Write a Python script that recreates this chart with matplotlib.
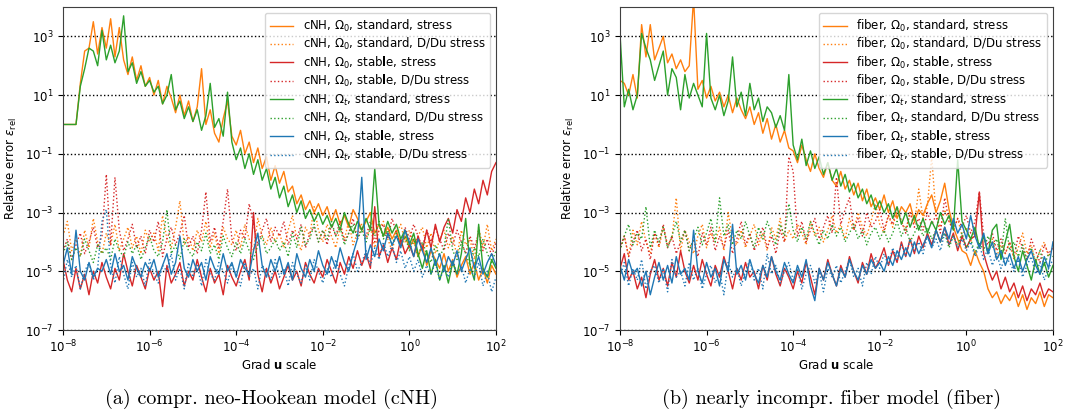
"""
Relative error of stress / D/Du stress vs. Grad u scale, cNH and fiber models
"""

import numpy as np
import matplotlib
matplotlib.use("Agg")
import matplotlib.pyplot as plt
from matplotlib.ticker import NullLocator

# sweep of the displacement-gradient scale (10^-8 ... 10^2, 0.1 decade steps)
grad_u_scale = np.logspace(-8, 2, 101)

# ---- data: log10 of the relative error ----
# compr. neo-Hookean (cNH)
cnh_O0_std = [
    0.0, 0.0, 0.0, 0.0, 1.4, 2.5, 2.6, 3.5, 2.4, 3.3,
    2.6, 3.6, 2.3, 3.3, 2.2, 1.7, 2.3, 1.5, 2.0, 1.3,
    1.6, 1.0, 1.5, 0.7, 1.3, 0.9, 0.4, 1.0, 0.3, 0.8,
    0.1, 0.6, 1.9, 0.0, 0.5, -0.3, -0.6, 0.2, 0.8, -0.4,
    -0.7, -0.2, -1.0, -0.6, -1.3, -0.8, -1.5, -1.1, -1.9, -1.4,
    -2.0, -1.6, -2.3, -2.1, -2.7, -2.4, -2.9, -2.6, -3.0, -2.7,
    -3.1, -2.8, -3.3, -2.9, -3.4, -3.1, -3.5, -2.9, -3.2, -3.6,
    -3.3, -3.0, -3.7, -3.4, -3.8, -3.5, -3.9, -3.6, -4.1, -3.8,
    -4.2, -3.9, -4.5, -4.1, -4.8, -4.3, -4.6, -4.9, -4.4, -5.0,
    -4.6, -5.2, -4.8, -4.5, -5.1, -4.7, -5.3, -4.9, -5.4, -4.8,
    -5.1]
cnh_O0_std_dd = [
    -3.8, -3.3, -4.3, -3.9, -4.5, -3.6, -4.2, -3.2, -4.0, -4.4,
    -3.7, -4.1, -3.4, -4.3, -3.9, -3.5, -4.2, -3.8, -4.4, -3.6,
    -4.0, -3.7, -4.3, -3.1, -3.9, -4.2, -3.5, -2.6, -4.1, -3.8,
    -4.3, -3.6, -4.0, -3.3, -4.2, -3.7, -4.4, -3.5, -3.9, -4.1,
    -3.6, -4.2, -3.4, -3.9, -4.3, -3.2, -3.8, -4.1, -3.5, -4.0,
    -3.7, -4.2, -3.6, -3.1, -3.9, -4.3, -3.5, -3.8, -2.8, -3.6,
    -4.0, -3.4, -3.8, -4.2, -3.5, -3.9, -3.3, -4.1, -3.7, -3.4,
    -3.9, -3.5, -4.2, -3.6, -3.3, -3.9, -4.3, -3.7, -3.4, -4.0,
    -3.6, -4.1, -3.8, -3.5, -4.2, -3.7, -4.4, -3.9, -3.6, -4.2,
    -3.8, -4.5, -3.6, -4.1, -3.9, -4.6, -3.5, -4.2, -3.4, -4.3,
    -3.9]
cnh_O0_stab = [
    -4.6, -5.3, -5.7, -4.9, -5.6, -5.1, -5.8, -5.0, -5.4, -4.7,
    -5.2, -5.6, -4.9, -5.3, -4.4, -5.0, -5.5, -4.8, -5.2, -5.6,
    -4.9, -5.3, -5.0, -6.2, -4.8, -5.4, -5.1, -4.7, -5.5, -5.0,
    -5.3, -4.6, -5.2, -5.7, -4.9, -5.4, -5.1, -5.8, -4.8, -5.2,
    -5.5, -5.0, -4.6, -5.3, -3.0, -5.1, -5.7, -4.9, -5.4, -5.0,
    -5.6, -5.2, -4.8, -5.3, -5.0, -5.5, -4.7, -5.1, -5.4, -4.9,
    -5.2, -4.6, -5.0, -5.4, -4.7, -5.1, -4.5, -4.9, -4.3, -4.8,
    -4.4, -4.9, -2.8, -4.5, -4.1, -4.7, -4.2, -4.6, -3.9, -4.4,
    -4.1, -4.5, -3.8, -4.3, -3.6, -4.2, -3.4, -4.0, -3.5, -3.2,
    -3.7, -2.9, -3.3, -2.5, -3.0, -2.2, -2.7, -1.9, -2.4, -1.6,
    -1.3]
cnh_O0_stab_dd = [
    -4.3, -3.9, -4.6, -4.1, -3.7, -4.4, -4.0, -3.5, -4.2, -3.8,
    -1.7, -4.1, -1.8, -3.6, -4.3, -3.9, -3.4, -4.2, -3.8, -4.4,
    -3.6, -4.0, -3.3, -4.5, -3.9, -3.5, -4.1, -3.7, -3.1, -4.2,
    -3.8, -4.4, -3.6, -2.3, -4.0, -3.5, -4.2, -3.3, -2.2, -3.9,
    -4.3, -3.6, -3.9, -2.7, -3.4, -4.1, -3.6, -3.2, -4.0, -3.5,
    -3.8, -3.3, -4.1, -3.6, -3.9, -3.4, -4.2, -3.7, -3.5, -4.0,
    -3.6, -4.1, -3.4, -3.8, -3.3, -4.0, -3.7, -3.2, -3.9, -3.5,
    -3.8, -3.3, -4.0, -3.6, -3.4, -3.9, -3.2, -3.7, -4.1, -3.5,
    -3.9, -3.4, -3.8, -4.2, -3.6, -4.0, -3.5, -3.9, -4.3, -3.7,
    -4.1, -3.6, -4.0, -4.4, -3.8, -4.2, -3.7, -4.3, -3.9, -4.5,
    -4.0]
cnh_Ot_std = [
    0.0, 0.0, 0.0, 0.0, 1.3, 1.9, 2.6, 2.5, 2.0, 3.2,
    2.2, 2.7, 2.1, 2.5, 3.7, 1.8, 2.1, 1.4, 1.8, 1.3,
    1.5, 1.1, 1.3, 0.7, 1.0, 1.7, 0.5, 0.8, 0.2, 0.6,
    0.1, 0.5, -0.2, 0.3, 1.4, -0.1, 0.2, -0.4, 1.1, -0.6,
    -1.2, -0.8, -1.5, -1.0, -1.7, -1.2, -1.9, -1.5, -2.2, -1.8,
    -2.5, -2.1, -2.8, -2.4, -3.0, -2.6, -3.2, -2.9, -3.3, -3.0,
    -3.4, -3.1, -3.5, -3.2, -3.6, -3.0, -3.4, -3.7, -3.3, -3.6,
    -3.2, -3.6, -1.5, -3.4, -3.8, -3.3, -3.7, -3.4, -3.9, -3.6,
    -4.1, -3.7, -4.4, -4.9, -4.3, -5.1, -4.6, -5.3, -4.8, -5.4,
    -4.7, -5.1, -4.4, -3.2, -4.8, -5.3, -3.4, -4.9, -5.2, -4.6,
    -4.9]
cnh_Ot_std_dd = [
    -4.4, -4.0, -4.6, -4.2, -4.5, -3.9, -4.3, -4.7, -4.1, -4.4,
    -4.2, -4.6, -3.9, -4.3, -4.5, -4.0, -4.4, -4.1, -4.6, -4.2,
    -3.8, -4.3, -4.5, -4.0, -2.9, -4.4, -4.1, -4.6, -3.9, -4.3,
    -4.5, -4.0, -4.3, -3.7, -4.4, -4.1, -4.6, -3.8, -4.2, -4.5,
    -4.0, -4.4, -3.9, -4.3, -4.6, -4.1, -3.8, -4.4, -4.2, -3.9,
    -4.3, -4.0, -4.5, -3.7, -4.2, -3.5, -4.1, -3.9, -3.4, -4.0,
    -3.6, -3.9, -3.3, -3.8, -3.5, -4.1, -3.7, -3.4, -3.9, -3.6,
    -4.0, -3.5, -3.8, -3.3, -3.9, -3.6, -4.1, -3.7, -4.2, -3.8,
    -4.3, -3.9, -4.5, -4.0, -4.4, -4.7, -4.1, -4.5, -4.2, -3.2,
    -4.3, -4.6, -4.0, -4.4, -4.8, -4.2, -4.5, -3.9, -4.4, -4.7,
    -4.3]
cnh_Ot_stab = [
    -4.8, -4.2, -5.1, -3.6, -5.0, -5.3, -4.7, -5.2, -4.9, -5.0,
    -4.6, -5.1, -4.4, -5.0, -4.8, -5.3, -4.5, -4.9, -5.2, -4.7,
    -5.0, -4.6, -5.2, -4.8, -4.4, -5.1, -4.7, -3.8, -4.9, -5.2,
    -4.6, -5.0, -4.7, -5.3, -4.5, -4.9, -5.1, -4.4, -5.0, -4.7,
    -5.2, -4.6, -4.9, -5.1, -4.3, -3.7, -4.8, -5.2, -4.6, -5.0,
    -4.5, -5.1, -4.7, -5.3, -4.4, -4.9, -5.2, -4.6, -5.0, -4.3,
    -4.8, -5.1, -4.5, -4.9, -4.2, -4.7, -5.0, -4.4, -3.9, -1.8,
    -4.6, -4.1, -4.5, -3.9, -4.3, -3.7, -4.1, -3.8, -4.2, -3.6,
    -4.0, -4.5, -3.9, -4.3, -4.7, -4.2, -4.8, -4.4, -5.0, -4.5,
    -4.8, -4.3, -5.0, -4.6, -4.2, -4.9, -4.5, -5.1, -4.7, -4.4,
    -4.8]
cnh_Ot_stab_dd = [
    -5.4, -4.6, -5.2, -4.8, -5.6, -5.0, -4.7, -5.3, -4.9, -3.3,
    -2.9, -4.8, -5.4, -4.5, -5.1, -5.6, -4.7, -5.2, -4.9, -5.5,
    -4.6, -5.1, -5.4, -4.8, -5.0, -4.4, -5.3, -4.9, -5.6, -4.7,
    -5.2, -4.8, -5.5, -4.6, -5.1, -5.3, -4.7, -5.0, -5.4, -4.8,
    -5.1, -5.5, -4.7, -5.2, -4.9, -5.6, -4.8, -5.0, -5.3, -4.6,
    -5.2, -4.9, -5.5, -4.7, -5.1, -5.4, -4.8, -5.3, -4.6, -5.0,
    -5.4, -4.9, -5.2, -4.6, -5.1, -5.5, -4.8, -4.4, -5.0, -4.7,
    -4.3, -4.8, -4.2, -4.6, -4.0, -4.5, -4.1, -4.7, -4.3, -4.9,
    -4.5, -5.0, -4.6, -5.2, -4.8, -5.1, -4.7, -5.3, -4.9, -5.2,
    -4.6, -5.1, -4.8, -5.4, -4.9, -5.2, -4.7, -5.5, -5.0, -5.7,
    -5.2]

# nearly incompr. fiber model (fiber)
fib_O0_std = [
    1.5, 1.4, 1.0, 1.7, 0.9, 3.4, 2.3, 3.4, 2.2, 2.6,
    3.0, 2.1, 2.4, 1.9, 2.2, 1.8, 2.0, 4.3, 1.2, 1.5,
    0.9, 1.3, 0.8, 1.1, 0.6, 1.0, 0.4, 0.9, 0.5, 0.2,
    0.6, 0.0, 0.4, -0.3, 0.2, -0.5, 0.0, -0.6, -0.2, -0.8,
    -0.9, -1.3, -0.7, -1.2, -1.6, -1.0, -1.5, -1.8, -1.3, -1.9,
    -2.1, -1.6, -2.2, -1.9, -2.4, -2.0, -2.6, -2.2, -2.8, -2.5,
    -2.9, -2.4, -3.0, -2.6, -3.2, -2.8, -3.0, -2.7, -3.3, -2.9,
    -3.1, -2.7, -2.4, -3.0, -2.6, -2.0, -2.9, -3.5, -3.9, -4.3,
    -4.4, -4.8, -4.3, -4.7, -5.0, -5.6, -5.9, -5.7, -6.1, -5.8,
    -6.0, -5.7, -6.2, -5.8, -6.3, -5.9, -6.1, -5.7, -6.2, -5.8,
    -5.9]
fib_O0_std_dd = [
    -4.3, -3.8, -4.5, -3.6, -4.1, -3.3, -4.0, -4.4, -3.7, -4.2,
    -3.5, -4.1, -3.9, -2.5, -4.3, -3.6, -4.0, -4.4, -3.8, -3.4,
    -4.2, -3.7, -4.0, -3.5, -4.3, -3.0, -3.9, -4.1, -3.6, -4.2,
    -3.8, -3.4, -4.1, -3.7, -4.3, -3.5, -3.9, -3.2, -4.0, -3.6,
    -3.9, -3.4, -3.7, -4.1, -3.3, -3.8, -3.5, -4.0, -3.6, -3.1,
    -3.7, -3.4, -3.9, -3.2, -3.6, -3.0, -3.5, -3.8, -3.3, -2.7,
    -3.4, -3.7, -3.1, -3.5, -2.9, -3.3, -3.6, -3.0, -3.4, -2.2,
    -3.2, -2.8, -1.1, -3.1, -3.5, -2.9, -3.3, -3.6, -3.2, -3.8,
    -3.5, -4.0, -3.6, -4.2, -3.8, -4.3, -3.9, -4.5, -4.1, -4.4,
    -4.0, -4.6, -4.2, -3.7, -4.4, -4.1, -4.7, -4.3, -4.0, -4.5,
    -4.2]
fib_O0_stab = [
    -4.9, -4.4, -5.3, -5.0, -5.6, -5.2, -5.9, -5.1, -4.6, -5.3,
    -4.9, -5.5, -4.7, -5.2, -4.3, -5.0, -5.4, -4.8, -5.3, -4.6,
    -5.1, -5.5, -4.8, -5.2, -4.5, -5.0, -5.6, -4.9, -5.3, -4.7,
    -5.2, -5.0, -5.6, -4.8, -5.3, -4.5, -5.1, -5.5, -4.9, -5.2,
    -5.6, -5.0, -5.4, -4.7, -5.2, -5.8, -4.9, -5.3, -4.6, -5.1,
    -5.5, -4.8, -5.2, -4.5, -5.0, -5.4, -4.7, -5.1, -4.4, -4.9,
    -4.6, -4.2, -4.8, -4.3, -4.7, -4.0, -4.5, -3.9, -4.4, -3.8,
    -4.2, -3.7, -4.1, -3.6, -4.0, -3.5, -4.1, -3.7, -4.3, -3.8,
    -4.2, -3.9, -3.8, -2.3, -4.4, -4.9, -5.3, -5.0, -5.6, -5.2,
    -5.7, -5.4, -5.9, -5.5, -6.0, -5.6, -5.8, -5.4, -5.9, -5.6,
    -5.7]
fib_O0_stab_dd = [
    -4.2, -3.8, -4.5, -4.0, -3.6, -4.3, -3.9, -4.6, -3.7, -4.1,
    -3.4, -4.2, -3.8, -4.4, -4.0, -3.6, -4.3, -3.9, -4.5, -3.7,
    -4.1, -3.5, -4.3, -3.8, -4.2, -3.6, -4.4, -3.9, -3.3, -4.1,
    -3.7, -4.3, -3.9, -3.5, -4.2, -3.8, -4.4, -3.6, -4.0, -1.1,
    -1.6, -3.8, -3.3, -4.0, -3.6, -3.2, -3.9, -3.5, -3.1, -3.7,
    -1.8, -3.4, -2.9, -2.5, -3.6, -3.2, -3.8, -3.0, -3.5, -3.3,
    -2.9, -3.6, -3.1, -3.4, -2.8, -3.3, -3.7, -3.0, -3.5, -3.2,
    -3.6, -3.0, -3.4, -3.1, -3.7, -2.5, -3.3, -3.6, -3.2, -3.5,
    -3.1, -3.7, -3.3, -2.3, -3.8, -4.1, -3.7, -4.3, -3.9, -4.4,
    -4.0, -4.5, -3.8, -4.2, -4.6, -3.9, -4.3, -4.7, -4.1, -4.4,
    -4.2]
fib_Ot_std = [
    3.1, 0.6, 1.2, 0.5, 1.0, 3.1, 2.6, 2.2, 1.5, 2.0,
    2.5, 1.0, 1.9, 1.6, 0.5, 1.7, 0.9, 1.4, 1.0, 0.6,
    3.1, 0.9, 0.5, 1.0, 0.3, 0.8, 2.3, 0.6, 1.1, 0.3,
    1.4, 0.5, 0.9, 0.1, 0.6, 0.4, -0.1, 0.3, -0.2, 1.7,
    -0.7, -1.2, -0.5, -1.4, -0.9, -1.5, -1.1, -1.7, -1.3, -1.9,
    -1.5, -2.1, -1.7, -2.3, -2.0, -2.5, -2.2, -2.7, -2.4, -2.9,
    -2.6, -3.0, -2.7, -3.2, -2.8, -3.4, -3.0, -3.5, -3.1, -3.6,
    -3.2, -3.7, -3.3, -3.6, -3.0, -3.4, -3.1, -3.6, -1.2, -3.3,
    -3.6, -3.9, -3.5, -4.2, -3.8, -4.4, -3.6, -3.4, -4.6, -4.0,
    -3.4, -4.5, -5.0, -4.3, -4.8, -5.3, -4.6, -5.1, -4.7, -5.2,
    -4.8]
fib_Ot_std_dd = [
    -4.3, -3.8, -3.4, -4.1, -3.7, -3.9, -2.8, -4.2, -3.6, -4.0,
    -3.5, -4.2, -3.8, -3.3, -4.0, -3.6, -4.3, -3.9, -3.5, -4.1,
    -3.7, -3.2, -4.0, -2.5, -3.8, -3.4, -4.1, -3.6, -3.9, -3.3,
    -3.8, -4.2, -3.5, -3.9, -3.3, -3.7, -4.1, -3.4, -3.8, -2.7,
    -3.6, -4.0, -3.5, -3.9, -3.3, -3.7, -4.1, -3.6, -3.9, -3.4,
    -3.8, -3.5, -4.0, -3.7, -3.4, -3.9, -3.6, -4.1, -3.7, -3.5,
    -3.9, -3.6, -4.0, -3.7, -3.3, -3.8, -3.5, -4.0, -3.7, -3.4,
    -3.8, -3.5, -3.9, -3.6, -4.0, -3.7, -4.2, -3.8, -4.1, -3.7,
    -4.2, -3.9, -4.4, -4.0, -4.3, -3.8, -4.2, -3.9, -4.5, -3.2,
    -4.3, -4.0, -4.5, -4.1, -4.6, -4.2, -4.7, -4.3, -4.8, -4.4,
    -4.5]
fib_Ot_stab = [
    -4.8, -5.3, -4.6, -5.1, -4.9, -5.5, -5.0, -5.8, -5.2, -4.7,
    -5.3, -4.8, -5.4, -4.5, -5.1, -4.9, -5.3, -3.6, -5.0, -5.4,
    -4.7, -5.2, -4.9, -5.5, -4.6, -5.0, -3.4, -5.1, -4.8, -5.3,
    -4.6, -5.1, -5.4, -4.8, -5.2, -4.5, -5.0, -5.3, -4.7, -5.1,
    -5.4, -4.8, -5.2, -4.6, -5.5, -6.0, -4.9, -5.3, -4.7, -5.1,
    -5.5, -4.9, -5.2, -4.6, -5.0, -5.3, -4.8, -5.1, -4.6, -4.9,
    -4.7, -5.0, -4.5, -4.8, -4.3, -4.6, -4.2, -4.5, -4.0, -4.4,
    -4.1, -3.8, -4.2, -3.6, -4.0, -3.5, -3.9, -3.2, -3.7, -3.4,
    -3.9, -3.1, -3.8, -4.2, -3.7, -4.4, -4.0, -4.6, -4.3, -4.8,
    -4.4, -4.9, -4.5, -5.0, -4.6, -4.3, -4.8, -5.1, -4.5, -4.9,
    -4.0]
fib_Ot_stab_dd = [
    -5.2, -4.7, -5.5, -4.9, -5.3, -4.6, -5.6, -5.0, -4.8, -5.4,
    -4.9, -5.7, -4.6, -5.2, -5.0, -5.5, -4.7, -5.3, -4.9, -5.6,
    -5.1, -4.8, -5.4, -5.0, -5.8, -4.7, -5.2, -4.9, -5.5, -5.0,
    -4.6, -5.3, -4.9, -5.6, -4.4, -5.1, -4.8, -5.4, -5.0, -4.7,
    -5.3, -4.9, -5.6, -5.1, -4.8, -5.4, -5.0, -5.7, -4.9, -5.2,
    -4.8, -5.4, -5.0, -4.6, -5.2, -4.9, -5.5, -4.7, -5.1, -4.5,
    -4.9, -4.4, -4.8, -4.2, -4.6, -4.1, -4.5, -3.9, -4.3, -4.0,
    -4.4, -3.8, -4.2, -3.9, -4.3, -3.7, -4.1, -3.8, -4.2, -3.9,
    -4.3, -4.0, -4.5, -4.1, -4.6, -4.2, -4.8, -4.4, -4.9, -4.5,
    -4.7, -5.0, -4.6, -5.2, -4.8, -4.5, -5.1, -4.7, -5.3, -4.9,
    -4.6]

models = ["cNH", "fiber"]
captions = ["(a) compr. neo-Hookean model (cNH)",
            "(b) nearly incompr. fiber model (fiber)"]
caption_x = [0.2542, 0.779]
series = {
    "cNH": [cnh_O0_std, cnh_O0_std_dd, cnh_O0_stab, cnh_O0_stab_dd,
            cnh_Ot_std, cnh_Ot_std_dd, cnh_Ot_stab, cnh_Ot_stab_dd],
    "fiber": [fib_O0_std, fib_O0_std_dd, fib_O0_stab, fib_O0_stab_dd,
              fib_Ot_std, fib_Ot_std_dd, fib_Ot_stab, fib_Ot_stab_dd],
}
label_parts = [(r"$\Omega_0$", "standard", "stress"),
               (r"$\Omega_0$", "standard", "D/Du stress"),
               (r"$\Omega_0$", r"stab$\mathbf{l}$e", "stress"),
               (r"$\Omega_0$", r"stab$\mathbf{l}$e", "D/Du stress"),
               (r"$\Omega_t$", "standard", "stress"),
               (r"$\Omega_t$", "standard", "D/Du stress"),
               (r"$\Omega_t$", r"stab$\mathbf{l}$e", "stress"),
               (r"$\Omega_t$", r"stab$\mathbf{l}$e", "D/Du stress")]
colors = ["tab:orange", "tab:orange", "tab:red", "tab:red",
          "tab:green", "tab:green", "tab:blue", "tab:blue"]
styles = ["-", ":", "-", ":", "-", ":", "-", ":"]

plt.rcParams["font.size"] = 8.5
plt.rcParams["mathtext.fontset"] = "dejavusans"

fig = plt.figure(figsize=(10.68, 4.15), dpi=100)
axes = [fig.add_axes([0.0590, 0.2048, 0.4054, 0.7783]),
        fig.add_axes([0.5805, 0.2048, 0.4054, 0.7783])]

for ax, model, cap, cx in zip(axes, models, captions, caption_x):
    for vals, (dom, kind, what), c, ls in zip(series[model], label_parts, colors, styles):
        ax.plot(grad_u_scale, 10.0 ** np.array(vals), color=c, ls=ls, lw=1.0,
                label=f"{model}, {dom}, {kind}, {what}")
    ax.set_xscale("log")
    ax.set_yscale("log")
    ax.set_xlim(1e-8, 1e2)
    ax.set_ylim(1e-7, 1e4)
    ax.set_xticks([1e-8, 1e-6, 1e-4, 1e-2, 1e0, 1e2])
    ax.set_yticks([1e-7, 1e-5, 1e-3, 1e-1, 1e1, 1e3])
    ax.xaxis.set_minor_locator(NullLocator())
    ax.yaxis.set_minor_locator(NullLocator())
    ax.tick_params(axis="x", pad=2.5)
    ax.grid(axis="y", ls=":", color="k", lw=1.0)
    ax.set_axisbelow(True)
    for sp in ax.spines.values():
        sp.set_color("0.25")
    ax.set_xlabel(r"Grad $\mathbf{u}$ scale", labelpad=2)
    ax.set_ylabel(r"Relative error $\varepsilon_{\rm rel}$")
    ax.legend(loc="upper right", labelspacing=0.2)
    fig.text(cx, 0.038, cap, ha="center", va="center",
             family="cmr10", fontsize=14.5)

fig.savefig("out.png", dpi=100)
